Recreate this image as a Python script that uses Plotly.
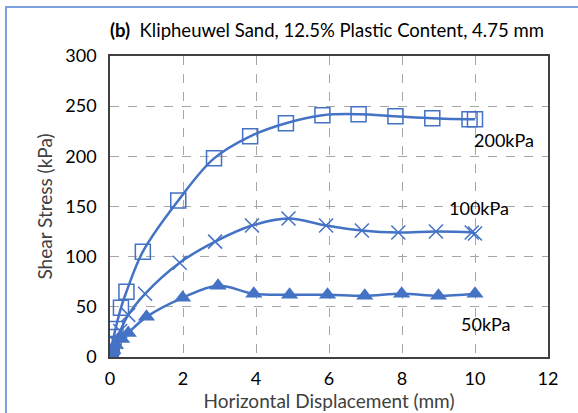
import plotly.graph_objects as go

# ---- data ----
x200 = [0, 0.02, 0.05, 0.1, 0.15, 0.3, 0.45, 0.9, 1.87, 2.85, 3.84, 4.82, 5.82, 6.81, 7.82, 8.83, 9.85, 10.0]
y200 = [0, 5, 12, 20, 28, 49, 65, 105, 156, 198, 220, 233, 241, 242, 240, 238, 237, 237]

x100 = [0, 0.03, 0.08, 0.15, 0.28, 0.5, 0.96, 1.91, 2.88, 3.89, 4.89, 5.92, 6.9, 7.9, 8.93, 9.91, 10.0]
y100 = [0, 4, 9, 15, 26, 42, 63, 94, 115, 131, 138, 131, 126, 124, 125, 124, 123]

x50 = [0, 0.03, 0.08, 0.15, 0.32, 0.5, 1.0, 1.99, 2.96, 3.94, 4.92, 5.96, 6.98, 7.99, 9.0, 10.0]
y50 = [0, 3, 7, 12, 18, 24, 40, 59, 71, 63, 62, 62, 61, 63, 61, 63]

labels = ["200kPa", "100kPa", "50kPa"]
label_pos = [(10.8, 216), (10.1, 149), (10.3, 33)]

title_text = "<b>(b)</b>  Klipheuwel Sand, 12.5% Plastic Content, 4.75 mm"
xtitle = "Horizontal Displacement (mm)"
ytitle = "Shear Stress (kPa)"

C = "#4472C4"
FONT = "Lato"

fig = go.Figure()
fig.add_trace(go.Scatter(x=x200, y=y200, mode="lines+markers", line=dict(color=C, width=2.5, shape="spline", smoothing=1),
                         marker=dict(symbol="square-open", size=15, color=C, line=dict(width=1.5, color=C)), showlegend=False))
fig.add_trace(go.Scatter(x=x100, y=y100, mode="lines+markers", line=dict(color=C, width=2.5, shape="spline", smoothing=1),
                         marker=dict(symbol="x-thin", size=14, color=C, line=dict(width=1.5, color=C)), showlegend=False))
fig.add_trace(go.Scatter(x=x50, y=y50, mode="lines+markers", line=dict(color=C, width=2.5, shape="spline", smoothing=1),
                         marker=dict(symbol="triangle-up", size=15, color=C, line=dict(width=0)), showlegend=False))

for t, (lx, ly) in zip(labels, label_pos):
    fig.add_annotation(x=lx, y=ly, text=t, showarrow=False, xref="x", yref="y",
                       font=dict(family=FONT, size=18, color="black"))

L, R, T, B = 110, 30, 56, 56
W, H = 578, 413
pw, ph = W - L - R, H - T - B

fig.add_annotation(x=(327 - L) / pw, y=(H - B - 30) / ph, xref="paper", yref="paper", text=title_text,
                   xanchor="center", yanchor="middle",
                   showarrow=False, font=dict(family=FONT, size=18.5, color="black"))

# chart area border (light blue)
fig.add_shape(type="rect", xref="paper", yref="paper",
              x0=(6 - L) / pw, x1=(W + 20 - L) / pw, y0=-(H + 20 - (H - B)) / ph, y1=(H - B - 7) / ph,
              line=dict(color="#7FA0DE", width=2), fillcolor="rgba(0,0,0,0)", layer="below")

fig.update_layout(
    width=W, height=H,
    margin=dict(l=L, r=R, t=T, b=B, autoexpand=False),
    paper_bgcolor="white", plot_bgcolor="white",
    font=dict(family=FONT, size=18, color="black"),
    xaxis=dict(range=[0, 12], dtick=2, showgrid=True, gridcolor="#A6A6A6", griddash="dash", gridwidth=1,
               zeroline=False, showline=True, linecolor="#404040", linewidth=1.5, mirror=True,
               ticks="", ticklabelstandoff=5, automargin=False,
               title=dict(text=xtitle, standoff=0, font=dict(size=19, color="#404040"))),
    yaxis=dict(range=[0, 300], dtick=50, showgrid=True, gridcolor="#A6A6A6", griddash="dash", gridwidth=1,
               zeroline=False, showline=True, linecolor="#404040", linewidth=1.5, mirror=True,
               ticks="", ticklabelstandoff=8, automargin=False,
               title=dict(text=ytitle, standoff=8, font=dict(size=19, color="#404040"))),
)

fig.write_html("out.html")
